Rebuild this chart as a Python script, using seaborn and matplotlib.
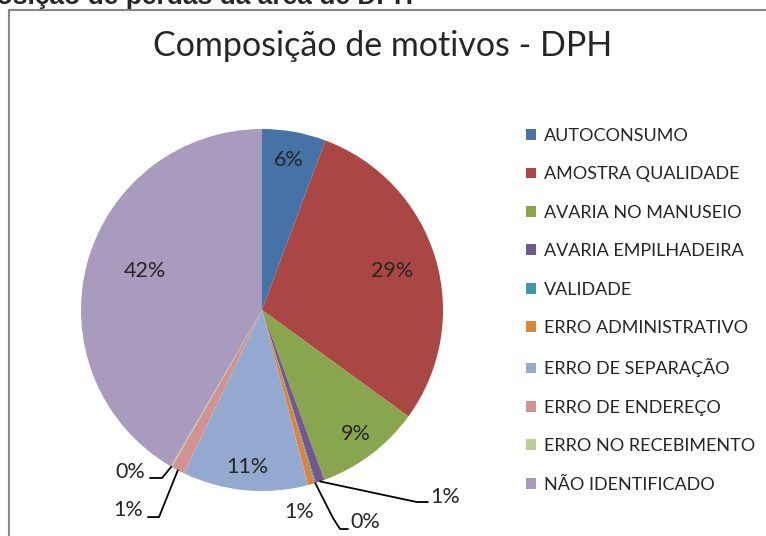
import numpy as np
import matplotlib
matplotlib.use("Agg")
import matplotlib.pyplot as plt
import seaborn as sns
from matplotlib.patches import Rectangle

# dados (percentuais)
categorias = ["AUTOCONSUMO", "AMOSTRA QUALIDADE", "AVARIA NO MANUSEIO",
              "AVARIA EMPILHADEIRA", "VALIDADE", "ERRO ADMINISTRATIVO",
              "ERRO DE SEPARAÇÃO", "ERRO DE ENDEREÇO", "ERRO NO RECEBIMENTO",
              "NÃO IDENTIFICADO"]
valores = [5.7, 29.3, 9.4, 0.8, 0.1, 0.6, 11.2, 1.2, 0.1, 41.6]
cores = ["#4572A7", "#AA4643", "#89A54E", "#71588F", "#4198AF",
         "#DB843D", "#93A9CF", "#D19392", "#B9CD96", "#A99BBD"]

titulo = "Composição de motivos - DPH"
cabecalho = "Composição de perdas da área de DPH"

sns.set_theme(style="white")
plt.rcParams["font.family"] = ["Lato", "DejaVu Sans"]

W, H = 766, 536
fig = plt.figure(figsize=(W / 100, H / 100), dpi=100)

# moldura do gráfico (estilo Excel)
fig.patches.append(Rectangle((9 / W, -0.2), 1.2, 1 - 10 / H + 0.2,
                             transform=fig.transFigure, fill=False,
                             edgecolor="#888888", linewidth=1.5))

# cabeçalho cortado no topo
fig.text(413 / W, 1 - 4 / H, cabecalho, ha="right", va="baseline",
         fontsize=19, fontweight="bold", family="Liberation Sans")

fig.text(383 / W, 1 - 46 / H, titulo, ha="center", va="center", fontsize=24.5)

cx, cy, r = 262, 310, 181
ax = fig.add_axes([(cx - r) / W, (H - cy - r) / H, 2 * r / W, 2 * r / H])
wedges, _ = ax.pie(valores, colors=sns.color_palette(cores), startangle=90,
                   counterclock=False, radius=1,
                   wedgeprops=dict(linewidth=0))
ax.set_xlim(-1, 1)
ax.set_ylim(-1, 1)
ax.set_aspect("equal")
ax.axis("off")

rotulos = ["%.0f%%" % v for v in valores]

# posição dos rótulos internos (raio relativo)
internos = {0: 0.84, 1: 0.75, 2: 0.86, 6: 0.87, 9: 0.67}
for i, rr in internos.items():
    w = wedges[i]
    ang = np.deg2rad((w.theta1 + w.theta2) / 2)
    ax.text(rr * np.cos(ang), rr * np.sin(ang) + (0.04 if i == 9 else 0),
            rotulos[i], ha="center", va="center", fontsize=15.5)

# rótulos externos com linhas de chamada: (cotovelo, fim, texto, alinhamento)
externos = {
    3: ((0.856, -1.061), (0.917, -1.061), (0.928, -1.033), "left"),
    4: ((0.392, -1.149), (0.475, -1.21), (0.486, -1.171), "left"),
    7: ((-0.569, -1.144), (-0.630, -1.144), (-0.657, -1.105), "right"),
    8: ((-0.552, -0.928), (-0.619, -0.928), (-0.646, -0.895), "right"),
}
for i, (cot, fim, txt, ha) in externos.items():
    w = wedges[i]
    ang = np.deg2rad((w.theta1 + w.theta2) / 2)
    x0, y0 = np.cos(ang), np.sin(ang)
    pts = [(x0, y0), cot, fim]
    if i == 4:
        pts = [(x0, y0), cot, (0.431, -1.21), fim]
    ax.plot([p[0] for p in pts], [p[1] for p in pts], color="black",
            linewidth=1.3, clip_on=False)
    ax.text(txt[0], txt[1], rotulos[i], ha=ha, va="center", fontsize=15.5)

# rótulo sem linha (erro administrativo)
ax.text(0.204, -1.116, rotulos[5], ha="center", va="center", fontsize=15.5)

leg = ax.legend(wedges, categorias, loc="upper left",
                bbox_to_anchor=(526 / W, 1 - 128 / H),
                bbox_transform=fig.transFigure, frameon=False,
                fontsize=13, borderpad=0, borderaxespad=0,
                handlelength=0.55, handleheight=0.55, handletextpad=0.45,
                labelspacing=1.24)

fig.savefig("out.png", dpi=100)
